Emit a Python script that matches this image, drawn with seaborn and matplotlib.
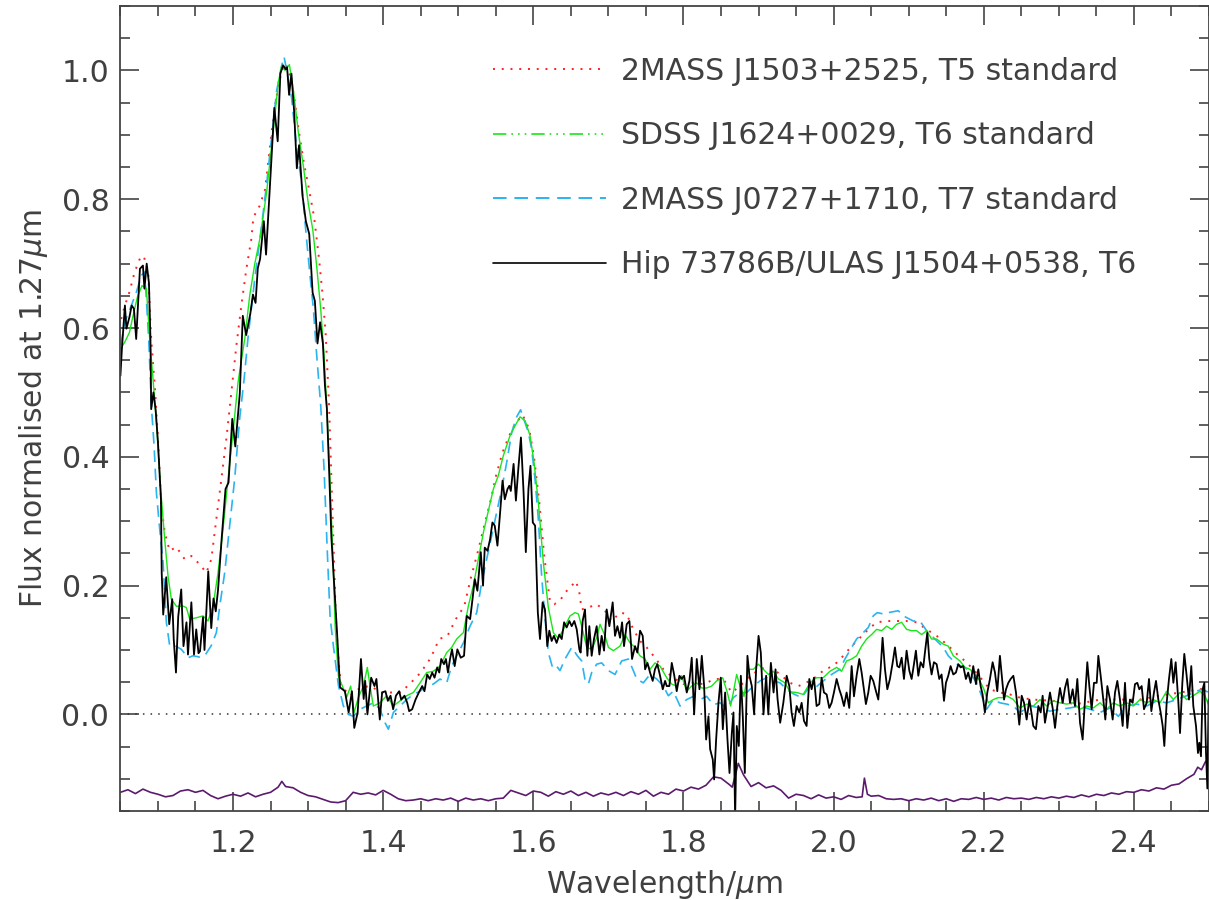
import numpy as np
import seaborn as sns
import matplotlib.pyplot as plt
from matplotlib.lines import Line2D
from matplotlib.ticker import MultipleLocator, FormatStrFormatter

# ---- data ----
# Hip 73786B / ULAS J1504+0538 (black)
black_wl = [1.050, 1.052, 1.056, 1.058, 1.062, 1.065, 1.068, 1.071, 1.076, 1.080, 1.082, 1.085, 1.088, 1.090, 1.091,
            1.094, 1.097, 1.100, 1.104, 1.105, 1.107, 1.111, 1.115, 1.119, 1.121, 1.124, 1.127, 1.131, 1.134, 1.138,
            1.140, 1.1445, 1.148, 1.151, 1.154,
            1.156, 1.160, 1.162, 1.167, 1.171, 1.174, 1.177, 1.180, 1.185, 1.190, 1.194, 1.199, 1.203, 1.209, 1.213,
            1.2175, 1.223, 1.2265, 1.230, 1.233, 1.236, 1.241, 1.244, 1.250, 1.255, 1.2595, 1.263, 1.2667, 1.270,
            1.272, 1.2747, 1.2778, 1.2814, 1.285, 1.288, 1.2925, 1.297, 1.3015, 1.306, 1.309, 1.3125, 1.316, 1.3197,
            1.3224, 1.325, 1.328, 1.331, 1.335, 1.3385,
            1.3425, 1.349, 1.354, 1.3584, 1.3615, 1.366, 1.3704, 1.374, 1.376, 1.379, 1.384, 1.3884, 1.391, 1.3955,
            1.3986, 1.403, 1.4062, 1.4098, 1.4133, 1.417, 1.4213, 1.424, 1.4284, 1.432, 1.4346, 1.4386, 1.4431,
            1.4475, 1.452, 1.455, 1.4586, 1.462, 1.4653, 1.4684, 1.472, 1.4747, 1.4773, 1.481, 1.4836, 1.4863, 1.489,
            1.4917, 1.4952, 1.4988, 1.5033, 1.5077, 1.5113, 1.5158, 1.519, 1.522, 1.5255, 1.530, 1.533, 1.5353,
            1.539, 1.5424, 1.5455, 1.5486, 1.5522, 1.5558, 1.559, 1.562, 1.5656, 1.568, 1.570, 1.5737, 1.5768, 1.580,
            1.5835, 1.587, 1.590, 1.5935, 1.5962, 1.5993, 1.6024, 1.606,
            1.6089, 1.6124, 1.6155, 1.6186, 1.6213, 1.6244, 1.6275, 1.631, 1.6346, 1.6378, 1.641, 1.6444, 1.648,
            1.6511, 1.6546, 1.6578, 1.6613, 1.663, 1.6657, 1.6688, 1.672, 1.6746, 1.6777, 1.6808, 1.6844, 1.688,
            1.691, 1.6942, 1.6977, 1.7013, 1.7057, 1.7088, 1.712, 1.7155, 1.7182, 1.7208, 1.7244, 1.728, 1.7315,
            1.7355, 1.7386, 1.7422, 1.7457, 1.7489, 1.752, 1.7555, 1.759, 1.762, 1.7652, 1.7688, 1.7724, 1.7755,
            1.7777, 1.7812, 1.7844, 1.7875, 1.791, 1.7946, 1.7977, 1.8008, 1.8044, 1.8079, 1.811, 1.8142, 1.8177,
            1.8213, 1.8244, 1.8275, 1.8302, 1.8333, 1.8355, 1.839, 1.8408, 1.8435, 1.8466, 1.8497, 1.8524, 1.8555,
            1.8586, 1.8613, 1.8644, 1.8666, 1.8688, 1.871, 1.8737, 1.8764, 1.879, 1.8817, 1.8852, 1.8879, 1.891,
            1.8941, 1.8968, 1.900, 1.903, 1.9066, 1.9101, 1.913, 1.9164, 1.920, 1.9226, 1.9253, 1.9288,
            1.933, 1.9374, 1.941, 1.944, 1.9471, 1.9507, 1.9543, 1.9574, 1.9605, 1.964, 1.9676, 1.9707, 1.9738,
            1.9773, 1.9809, 1.984, 1.9871, 1.9907, 1.9942, 1.9973, 2.0004, 2.004, 2.0075, 2.0106, 2.0138, 2.0173,
            2.0208, 2.024, 2.0271, 2.0306, 2.0342, 2.0373, 2.0404, 2.043, 2.0462, 2.0493, 2.0528, 2.0564, 2.0595,
            2.0626, 2.0652, 2.0684, 2.0715, 2.075, 2.0786, 2.0817, 2.0848, 2.0875, 2.0906, 2.0937, 2.0972, 2.1008,
            2.1039, 2.107, 2.1096, 2.1128, 2.1159, 2.1194, 2.1216, 2.1248, 2.1274, 2.1305, 2.1336, 2.1372, 2.1407,
            2.1438, 2.147, 2.1496, 2.1527, 2.1558, 2.1594, 2.1629, 2.166, 2.1692, 2.1727, 2.1762, 2.1793, 2.1825,
            2.186, 2.1896, 2.1927, 2.1958, 2.1984, 2.2015, 2.2047, 2.2082, 2.2118, 2.2149, 2.218, 2.2215,
            2.227, 2.2296, 2.2327, 2.2358, 2.2394, 2.2429, 2.2473, 2.2505, 2.2536, 2.2571, 2.2607, 2.2638, 2.266,
            2.2695, 2.2727, 2.2758, 2.2784, 2.2815, 2.2846, 2.2882, 2.2917, 2.2949, 2.298, 2.3015, 2.3051, 2.3082,
            2.3113, 2.3148, 2.3184, 2.3215, 2.3246, 2.3282, 2.3317, 2.3348, 2.3379, 2.3406, 2.3437, 2.3468, 2.3504,
            2.3526, 2.3557, 2.3592, 2.3619, 2.3646, 2.3681, 2.3717, 2.3748, 2.3779, 2.3814, 2.385, 2.3881, 2.3912,
            2.3947, 2.3983, 2.4014, 2.4045, 2.4072, 2.4103, 2.4134, 2.417, 2.4201, 2.4232, 2.4267, 2.4294, 2.4325,
            2.4356, 2.4383, 2.4405, 2.4436, 2.4467, 2.4498, 2.4525, 2.4556, 2.4591, 2.4614, 2.4645, 2.4671, 2.4702,
            2.4733, 2.4764, 2.4791, 2.4827, 2.4853, 2.4871, 2.4893, 2.4915, 2.4938, 2.496, 2.4978, 2.4995]
black_flux = [0.526, 0.568, 0.635, 0.599, 0.617, 0.635, 0.630, 0.583, 0.692, 0.697, 0.661, 0.700, 0.670, 0.583, 0.474,
              0.500, 0.472, 0.423, 0.334, 0.220, 0.155, 0.213, 0.140, 0.179, 0.117, 0.065, 0.152, 0.194, 0.106, 0.143,
              0.093, 0.174, 0.093, 0.132, 0.095,
              0.098, 0.151, 0.100, 0.222, 0.134, 0.180, 0.160, 0.193, 0.275, 0.350, 0.360, 0.459, 0.416, 0.498, 0.619,
              0.589, 0.622, 0.652, 0.639, 0.693, 0.707, 0.766, 0.714, 0.838, 0.942, 0.890, 0.995, 1.008, 1.002,
              1.005, 0.962, 0.995, 0.936, 0.848, 0.884, 0.806, 0.766, 0.746, 0.655, 0.642, 0.576, 0.609, 0.576,
              0.511, 0.475, 0.379, 0.275, 0.196, 0.128,
              0.042, 0.036, 0.003, 0.036, -0.021, 0.003, 0.086, 0.024, 0.052, 0.000, 0.057, 0.044, 0.055, -0.008,
              0.034, 0.036, 0.021, 0.029, 0.008, 0.029, 0.036, 0.023, 0.029, 0.018, 0.005, 0.008, 0.023,
              0.034, 0.044, 0.036, 0.062, 0.055, 0.065, 0.057, 0.073, 0.065, 0.086, 0.078, 0.086, 0.065, 0.086,
              0.101, 0.075, 0.101, 0.088, 0.091, 0.153, 0.148, 0.179, 0.210, 0.192, 0.252, 0.200, 0.259,
              0.254, 0.272, 0.298, 0.293, 0.262, 0.314, 0.363, 0.334, 0.350, 0.355, 0.347, 0.389, 0.332, 0.381,
              0.430, 0.345, 0.252, 0.350, 0.386, 0.298, 0.293, 0.158,
              0.117, 0.174, 0.163, 0.106, 0.130, 0.114, 0.122, 0.111, 0.124, 0.117, 0.143, 0.135, 0.145,
              0.137, 0.145, 0.132, 0.101, 0.096, 0.145, 0.163, 0.091, 0.137, 0.091, 0.117, 0.137, 0.093,
              0.122, 0.099, 0.163, 0.137, 0.174, 0.122, 0.137, 0.119, 0.143, 0.106, 0.140, 0.145, 0.086,
              0.106, 0.096, 0.130, 0.122, 0.070, 0.080, 0.065, 0.052, 0.070, 0.078, 0.060, 0.039, 0.052,
              0.044, 0.044, 0.080, 0.062, 0.036, 0.060, 0.055, 0.060, 0.034, 0.052, 0.088, 0.000, 0.086,
              0.039, 0.091, 0.044, -0.039, -0.003, -0.054, -0.070, -0.101, -0.039, 0.018, 0.057, -0.023, 0.034,
              -0.039, -0.091, -0.029, 0.003, -0.160, -0.018, -0.049, 0.060, -0.003, -0.091, 0.091, 0.060, 0.044,
              0.000, 0.070, 0.122, 0.096, 0.000, 0.060, 0.000, 0.080, 0.034, 0.070, 0.024, -0.013,
              0.018, 0.060, 0.044, 0.003, -0.018, 0.013, 0.003, 0.018, -0.010, -0.018, 0.055, 0.039, 0.057,
              0.013, 0.016, 0.057, 0.034, 0.031, 0.010, 0.018, 0.034, 0.055, 0.039, 0.028, 0.013, 0.034,
              0.010, 0.075, 0.028, 0.060, 0.086, 0.065, 0.039, 0.016, 0.034, 0.060, 0.052, 0.036, 0.023,
              0.070, 0.119, 0.070, 0.039, 0.055, 0.080, 0.104, 0.075, 0.073, 0.088, 0.055, 0.099, 0.068,
              0.055, 0.078, 0.099, 0.060, 0.081, 0.073, 0.096, 0.127, 0.086, 0.062, 0.081, 0.078, 0.055,
              0.062, 0.021, 0.049, 0.060, 0.075, 0.062, 0.065, 0.078, 0.073, 0.075, 0.055, 0.065, 0.049,
              0.075, 0.047, 0.070, 0.044, 0.031, 0.003, 0.034, 0.055, 0.081, 0.065, 0.036, 0.091,
              0.023, 0.039, 0.049, 0.055, 0.060, 0.034, -0.016, 0.029, 0.018, -0.008, 0.023, 0.000, -0.018,
              -0.023, 0.013, 0.003, 0.029, -0.013, 0.008, 0.034, 0.010, -0.021, 0.013, 0.041, 0.018, 0.041,
              0.055, 0.018, 0.039, 0.013, 0.055, -0.013, -0.039, 0.023, 0.081, 0.044, 0.008, 0.049, 0.049,
              0.091, 0.060, 0.023, -0.008, 0.044, 0.023, -0.008, 0.034, 0.052, 0.023, -0.018, 0.049, -0.021,
              0.023, 0.018, 0.047, 0.049, 0.039, 0.044, 0.008, 0.018, 0.055, 0.005, 0.034, 0.052, 0.023,
              0.003, -0.018, -0.049, 0.018, 0.055, 0.086, 0.049, 0.081, 0.021, -0.029, 0.049, 0.094, 0.060,
              0.023, 0.075, 0.013, -0.018, -0.060, -0.044, -0.065, 0.039, 0.049, -0.060, -0.115, 0.023]

# 2MASS J1503+2525, T5 standard (red dotted)
t5_wl = [1.051, 1.056, 1.062, 1.069, 1.076, 1.081, 1.087, 1.091, 1.096, 1.100, 1.1045, 1.109, 1.1156, 1.1245, 1.1356,
         1.1445, 1.1556, 1.1645, 1.1711, 1.1778, 1.1845, 1.1911, 1.1978, 1.2045, 1.2111, 1.2178, 1.2245, 1.2271,
         1.2351, 1.2427, 1.2471, 1.2515, 1.2573, 1.263, 1.268, 1.273, 1.278, 1.281, 1.288, 1.2946, 1.3013, 1.308,
         1.3146, 1.319, 1.3235, 1.328, 1.3324, 1.3369, 1.340, 1.3435, 1.356, 1.3701, 1.3834, 1.3968, 1.410, 1.4234,
         1.4368, 1.450, 1.4635, 1.4746, 1.4857, 1.4968, 1.508, 1.5168, 1.5257, 1.5346, 1.5435, 1.5502, 1.559, 1.568,
         1.5768, 1.5857, 1.5946, 1.6013, 1.608, 1.6146, 1.6222, 1.628, 1.6368, 1.6422, 1.6511, 1.6569, 1.6613,
         1.6644, 1.6733, 1.6844, 1.6955, 1.7044, 1.7155, 1.7243, 1.7332, 1.7421, 1.751, 1.7621, 1.7732, 1.7865,
         1.7998, 1.8131, 1.8265, 1.842, 1.8531, 1.8642, 1.8753, 1.8886, 1.902, 1.9153, 1.9286, 1.9419, 1.953,
         1.9596, 1.9729, 1.9884, 1.9995, 2.0129, 2.024, 2.0351, 2.0462, 2.0573, 2.0706, 2.0839, 2.0972, 2.1105,
         2.1238, 2.1372, 2.1505, 2.1638, 2.1749, 2.186, 2.1971, 2.2082, 2.2215, 2.2348, 2.2482, 2.266, 2.2927,
         2.3237, 2.3548, 2.3859, 2.4081, 2.4347, 2.4614, 2.488, 2.500]
t5_flux = [0.614, 0.635, 0.656, 0.687, 0.708, 0.712, 0.687, 0.583, 0.506, 0.428, 0.324, 0.283, 0.254, 0.260, 0.241,
           0.246, 0.233, 0.220, 0.241, 0.303, 0.366, 0.428, 0.500, 0.573, 0.635, 0.692, 0.739, 0.772,
           0.789, 0.815, 0.860, 0.905, 0.955, 0.990, 1.010, 1.005, 0.980, 0.962, 0.903, 0.855, 0.815, 0.772,
           0.707, 0.655, 0.589, 0.478, 0.314, 0.151, 0.092, 0.045, 0.029, 0.042, 0.044, 0.034, 0.034, 0.034,
           0.049, 0.065, 0.088, 0.117, 0.122, 0.148, 0.168, 0.212, 0.251, 0.293, 0.334, 0.370, 0.407, 0.433,
           0.453, 0.465, 0.443, 0.396, 0.329, 0.245, 0.175, 0.171, 0.179, 0.189, 0.200, 0.207, 0.189,
           0.163, 0.166, 0.171, 0.161, 0.145, 0.158, 0.156, 0.132, 0.114, 0.104, 0.088, 0.070, 0.057,
           0.047, 0.049, 0.047, 0.055, 0.055, 0.034, 0.044, 0.060, 0.070, 0.075, 0.062, 0.049, 0.044,
           0.047, 0.055, 0.070, 0.075, 0.091, 0.106, 0.119, 0.132, 0.143, 0.145, 0.145, 0.145, 0.143,
           0.132, 0.122, 0.109, 0.094, 0.083, 0.070, 0.055, 0.039, 0.034, 0.031, 0.026, 0.023, 0.021,
           0.016, 0.023, 0.023, 0.023, 0.029, 0.034, 0.039, 0.042]

# SDSS J1624+0029, T6 standard (green)
t6_wl = [1.0505, 1.0557, 1.062, 1.0668, 1.0726, 1.0788, 1.0846, 1.089, 1.0934, 1.0979, 1.1036, 1.109, 1.1134, 1.1178,
         1.1245, 1.1334, 1.1378, 1.1423, 1.1512, 1.160, 1.1667, 1.1734, 1.180, 1.1867, 1.1934, 1.200, 1.2067,
         1.2156, 1.2223, 1.229, 1.236, 1.2449, 1.2515, 1.2604, 1.2649, 1.2693, 1.2751, 1.2804, 1.2871, 1.2937,
         1.3004, 1.3062, 1.3116, 1.3169, 1.3213, 1.3248, 1.3293, 1.3329, 1.336, 1.3404, 1.3449, 1.3516, 1.3536,
         1.3567, 1.3612, 1.3669, 1.3736, 1.3789, 1.3825, 1.3869, 1.3958, 1.4047, 1.4136, 1.4224, 1.4313, 1.4402,
         1.4491, 1.458, 1.4668, 1.4757, 1.4846, 1.4912, 1.4979, 1.5068, 1.5134, 1.5201, 1.5268, 1.5334, 1.5401,
         1.5468, 1.5534, 1.5601, 1.569, 1.5756, 1.5823, 1.589, 1.5956, 1.601, 1.6067, 1.6134, 1.620, 1.6267,
         1.6333, 1.640, 1.6489, 1.6555, 1.660, 1.6644, 1.6711, 1.6777, 1.6844, 1.6888, 1.6955, 1.700, 1.7066,
         1.7155, 1.7221, 1.7288, 1.7354, 1.7421, 1.7488, 1.7554, 1.7621, 1.7688, 1.7776, 1.7843, 1.791, 1.7976,
         1.8042, 1.8109, 1.8176, 1.8242, 1.8309, 1.8376, 1.8442, 1.8522, 1.8584, 1.8628, 1.8664, 1.8708, 1.8753,
         1.8806, 1.8864, 1.8931, 1.8997, 1.9064, 1.9131, 1.9197, 1.9264, 1.9352, 1.9419, 1.9507, 1.9596, 1.9685,
         1.9773, 1.9862, 1.9951, 2.004, 2.0106, 2.0173, 2.024, 2.0306, 2.0373, 2.0439, 2.0506, 2.0573, 2.064,
         2.0706, 2.0773, 2.084, 2.0906, 2.0972, 2.1039, 2.1105, 2.1172, 2.1239, 2.1305, 2.1372, 2.1461, 2.1527,
         2.1594, 2.1683, 2.1749, 2.1816, 2.1882, 2.1949, 2.2002, 2.206, 2.2126, 2.2193, 2.226, 2.2305, 2.2394,
         2.2482, 2.2571, 2.266, 2.2749, 2.2838, 2.2927, 2.3015, 2.3104, 2.3193, 2.3282, 2.3371, 2.346, 2.3548,
         2.3637, 2.3726, 2.3814, 2.3903, 2.3992, 2.4081, 2.417, 2.4258, 2.4347, 2.4436, 2.4525, 2.4614, 2.4702,
         2.4791, 2.488, 2.4946, 2.500]
t6_flux = [0.568, 0.578, 0.593, 0.619, 0.648, 0.666, 0.661, 0.583, 0.521, 0.454, 0.350, 0.272, 0.215, 0.179,
           0.168, 0.168, 0.166, 0.148, 0.150, 0.153, 0.145, 0.168, 0.220, 0.288, 0.366, 0.438, 0.516,
           0.583, 0.651, 0.700, 0.740, 0.812, 0.884, 0.982, 1.008, 1.000, 1.009, 0.969, 0.903, 0.851,
           0.792, 0.753, 0.694, 0.628, 0.557, 0.478, 0.360, 0.249, 0.137, 0.059, 0.046, 0.027, 0.034,
           0.044, 0.003, 0.026, 0.044, 0.073, 0.044, 0.013, 0.018, 0.029, 0.013, 0.021, 0.029, 0.034,
           0.049, 0.065, 0.067, 0.075, 0.096, 0.104, 0.117, 0.127, 0.168, 0.200, 0.241, 0.282, 0.316,
           0.350, 0.371, 0.402, 0.433, 0.448, 0.462, 0.456, 0.433, 0.391, 0.329, 0.235, 0.166, 0.127,
           0.118, 0.132, 0.153, 0.158, 0.156, 0.137, 0.104, 0.101, 0.119, 0.140, 0.122, 0.104, 0.099,
           0.106, 0.124, 0.111, 0.104, 0.091, 0.086, 0.070, 0.080, 0.075, 0.057, 0.047, 0.044, 0.060,
           0.036, 0.044, 0.049, 0.041, 0.041, 0.044, 0.052, 0.057, 0.034, 0.013, 0.034, 0.062, 0.044,
           0.028, 0.070, 0.070, 0.078, 0.070, 0.062, 0.067, 0.055, 0.049, 0.035, 0.034, 0.031, 0.049,
           0.057, 0.057, 0.067, 0.073, 0.067, 0.083, 0.086, 0.091, 0.106, 0.117, 0.124, 0.132, 0.130,
           0.137, 0.132, 0.140, 0.143, 0.132, 0.130, 0.130, 0.124, 0.130, 0.117, 0.117, 0.109, 0.106,
           0.091, 0.083, 0.073, 0.070, 0.062, 0.052, 0.039, 0.018, 0.023, 0.026, 0.026, 0.029, 0.023,
           0.010, 0.016, 0.013, 0.023, 0.013, 0.021, 0.018, 0.016, 0.018, 0.008, 0.013, 0.010, 0.018,
           0.008, 0.018, 0.013, 0.018, 0.013, 0.023, 0.018, 0.023, 0.018, 0.036, 0.023, 0.034, 0.023,
           0.029, 0.036, 0.029, 0.013]

# 2MASS J0727+1710, T7 standard (cyan dashed)
t7_wl = [1.0505, 1.0557, 1.0646, 1.0713, 1.078, 1.0824, 1.0877, 1.0912, 1.0948, 1.0979, 1.1023, 1.1068, 1.1112,
         1.1156, 1.1223, 1.1312, 1.1401, 1.1467, 1.1556, 1.1623, 1.1711, 1.1778, 1.1823, 1.1889, 1.1956, 1.2022,
         1.2089, 1.2147, 1.220, 1.2293, 1.2382, 1.2449, 1.2515, 1.2582, 1.2649, 1.268, 1.2724, 1.2782, 1.2849,
         1.2915, 1.2973, 1.3026, 1.3071, 1.3115, 1.3169, 1.3213, 1.3257, 1.3293, 1.3338, 1.3404, 1.347, 1.3536,
         1.3603, 1.3692, 1.378, 1.3869, 1.3958, 1.4025, 1.4069, 1.4136, 1.4224, 1.4313, 1.4402, 1.4491, 1.458,
         1.4668, 1.4757, 1.4846, 1.4912, 1.4979, 1.5068, 1.5157, 1.5246, 1.5312, 1.5379, 1.5445, 1.5512, 1.5579,
         1.5645, 1.5712, 1.5778, 1.583, 1.5934, 1.5978, 1.6023, 1.6067, 1.6111, 1.6156, 1.620, 1.6258, 1.6311,
         1.6355, 1.6422, 1.6511, 1.6586, 1.6644, 1.6688, 1.6733, 1.6777, 1.6844, 1.6911, 1.700, 1.7088, 1.7177,
         1.7266, 1.7332, 1.7377, 1.7465, 1.7554, 1.7643, 1.7732, 1.7798, 1.7865, 1.7954, 1.8042, 1.8131, 1.822,
         1.8309, 1.8398, 1.8487, 1.8575, 1.8664, 1.8753, 1.8842, 1.8931, 1.902, 1.9108, 1.9197, 1.9286, 1.9374,
         1.9463, 1.9574, 1.9685, 1.9751, 1.9862, 1.9973, 2.0084, 2.0151, 2.024, 2.0306, 2.0395, 2.0462, 2.0528,
         2.0581, 2.0661, 2.0728, 2.0861, 2.0928, 2.1061, 2.115, 2.1238, 2.135, 2.1461, 2.1527, 2.1638, 2.1749,
         2.1816, 2.1904, 2.1971, 2.2038, 2.2126, 2.2215, 2.2304, 2.2393, 2.2482, 2.2616, 2.2749, 2.2882, 2.3015,
         2.3148, 2.3282, 2.3415, 2.3548, 2.3681, 2.3792, 2.3903, 2.4036, 2.417, 2.4303, 2.4436, 2.4569, 2.4702,
         2.4836, 2.4902, 2.500]
t7_flux = [0.573, 0.609, 0.635, 0.656, 0.682, 0.687, 0.583, 0.480, 0.418, 0.345, 0.288, 0.236, 0.143,
           0.107, 0.107, 0.101, 0.088, 0.091, 0.089, 0.091, 0.107, 0.127, 0.168, 0.220, 0.293, 0.366,
           0.460, 0.520, 0.585, 0.680, 0.760, 0.825, 0.897, 0.969, 1.008, 1.021, 0.995, 0.956, 0.877,
           0.825, 0.746, 0.681, 0.629, 0.557, 0.478, 0.380, 0.249, 0.151, 0.105, 0.045, 0.013, 0.000,
           -0.003, 0.008, 0.013, 0.018, 0.008, -0.013, -0.023, 0.003, 0.013, 0.023, 0.031, 0.036, 0.044,
           0.047, 0.055, 0.049, 0.075, 0.091, 0.111, 0.137, 0.158, 0.205, 0.241, 0.277, 0.314, 0.350,
           0.391, 0.438, 0.462, 0.473, 0.438, 0.412, 0.365, 0.303, 0.215, 0.148, 0.096, 0.072, 0.075,
           0.068, 0.086, 0.104, 0.091, 0.083, 0.054, 0.047, 0.065, 0.078, 0.080, 0.068, 0.062, 0.083,
           0.086, 0.068, 0.055, 0.049, 0.062, 0.055, 0.044, 0.029, 0.036, 0.013, 0.023, 0.028, 0.023,
           0.028, 0.015, 0.018, 0.010, 0.026, 0.034, 0.034, 0.044, 0.052, 0.057, 0.052, 0.049, 0.039,
           0.032, 0.026, 0.044, 0.041, 0.052, 0.062, 0.070, 0.086, 0.104, 0.117, 0.127, 0.135, 0.153,
           0.158, 0.156, 0.158, 0.161, 0.153, 0.145, 0.145, 0.130, 0.117, 0.104, 0.091, 0.078, 0.073,
           0.065, 0.049, 0.029, 0.008, 0.023, 0.018, 0.016, 0.013, 0.003, 0.013, 0.010, 0.005, 0.008,
           0.010, 0.013, 0.008, 0.003, 0.010, -0.003, 0.013, 0.016, 0.013, 0.021, 0.018, 0.023, 0.029,
           0.036, 0.039, 0.034]

# noise spectrum drawn along the bottom (purple)
noise_wl = [1.05, 1.06, 1.07, 1.08, 1.09, 1.10, 1.11, 1.12, 1.13, 1.14, 1.15, 1.16, 1.17, 1.18, 1.19, 1.20, 1.21,
            1.22, 1.23, 1.24, 1.25, 1.26, 1.265, 1.27, 1.28, 1.29, 1.30, 1.31, 1.32, 1.33, 1.34, 1.35, 1.36, 1.37,
            1.38, 1.39, 1.40, 1.41, 1.42, 1.43, 1.44, 1.45, 1.46, 1.47, 1.48, 1.49, 1.50, 1.51, 1.52, 1.53, 1.54,
            1.55, 1.56, 1.57, 1.58, 1.59, 1.60, 1.61, 1.62, 1.63, 1.64, 1.65, 1.66, 1.67, 1.68, 1.69, 1.70, 1.71,
            1.72, 1.73, 1.74, 1.75, 1.76, 1.77, 1.78, 1.79, 1.80, 1.81, 1.82, 1.83, 1.84, 1.85, 1.86, 1.865, 1.873,
            1.88, 1.89, 1.90, 1.91, 1.92, 1.93, 1.94, 1.95, 1.96, 1.97, 1.98, 1.99, 2.00, 2.01, 2.02, 2.03, 2.038,
            2.041, 2.045, 2.05, 2.06, 2.07, 2.08, 2.09, 2.10, 2.11, 2.12, 2.13, 2.14, 2.15, 2.16, 2.17, 2.18, 2.19,
            2.20, 2.21, 2.22, 2.23, 2.24, 2.25, 2.26, 2.27, 2.28, 2.29, 2.30, 2.31, 2.32, 2.33, 2.34, 2.35, 2.36,
            2.37, 2.38, 2.39, 2.40, 2.41, 2.42, 2.43, 2.44, 2.45, 2.46, 2.47, 2.48, 2.485, 2.49, 2.495, 2.50]
noise_flux = [-0.121, -0.117, -0.123, -0.116, -0.121, -0.124, -0.128, -0.126, -0.119, -0.117, -0.121, -0.118,
              -0.126, -0.131, -0.127, -0.124, -0.127, -0.122, -0.128, -0.124, -0.121, -0.113, -0.104, -0.112,
              -0.114, -0.121, -0.126, -0.128, -0.132, -0.136, -0.137, -0.134, -0.121, -0.124, -0.122, -0.125,
              -0.118, -0.124, -0.131, -0.134, -0.133, -0.131, -0.134, -0.131, -0.133, -0.130, -0.135, -0.130,
              -0.133, -0.131, -0.134, -0.131, -0.130, -0.118, -0.122, -0.126, -0.119, -0.121, -0.127, -0.120,
              -0.124, -0.119, -0.126, -0.121, -0.127, -0.122, -0.125, -0.121, -0.126, -0.120, -0.124, -0.118,
              -0.127, -0.121, -0.124, -0.116, -0.119, -0.113, -0.116, -0.110, -0.097, -0.099, -0.108, -0.113,
              -0.076, -0.094, -0.112, -0.106, -0.114, -0.111, -0.118, -0.130, -0.124, -0.126, -0.131, -0.125,
              -0.130, -0.128, -0.132, -0.126, -0.129, -0.128, -0.099, -0.124, -0.127, -0.126, -0.131, -0.132,
              -0.131, -0.134, -0.131, -0.133, -0.130, -0.134, -0.131, -0.135, -0.131, -0.132, -0.129, -0.132,
              -0.130, -0.133, -0.129, -0.131, -0.130, -0.132, -0.129, -0.131, -0.128, -0.130, -0.127, -0.129,
              -0.125, -0.128, -0.124, -0.126, -0.122, -0.124, -0.120, -0.121, -0.117, -0.119, -0.114, -0.116,
              -0.110, -0.108, -0.100, -0.093, -0.082, -0.086, -0.074, -0.068]

legend_labels = ['2MASS J1503+2525, T5 standard',
                 'SDSS J1624+0029, T6 standard',
                 '2MASS J0727+1710, T7 standard',
                 'Hip 73786B/ULAS J1504+0538, T6']

# ---- style ----
sns.set_theme(style='ticks')
plt.rcParams['font.family'] = ['DejaVu Sans']
ink = '#404040'
fs = 21.5

fig = plt.figure(figsize=(12.09, 9), dpi=100)
ax = fig.add_axes([0.0996, 0.0989, 0.9004, 0.8944])

red_ls = (0, (1, 3.5))
green_ls = (0, (8, 3, 1, 3, 1, 3, 1, 3))
cyan_ls = (0, (7, 4))

sns.lineplot(x=noise_wl, y=noise_flux, color='#5b1a6e', linewidth=1.2, estimator=None, errorbar=None, ax=ax)
ax.axhline(0.0, color='#333333', linestyle=(0, (1, 4)), linewidth=1.1)
sns.lineplot(x=t5_wl, y=t5_flux, color='#ff2020', linestyle=red_ls, linewidth=1.4,
             estimator=None, errorbar=None, ax=ax)
sns.lineplot(x=t7_wl, y=t7_flux, color='#2ab4f0', linestyle=cyan_ls, linewidth=1.2,
             estimator=None, errorbar=None, ax=ax)
sns.lineplot(x=t6_wl, y=t6_flux, color='#19e619', linewidth=1.0, estimator=None, errorbar=None, ax=ax)
sns.lineplot(x=black_wl, y=black_flux, color='black', linewidth=1.3, estimator=None, errorbar=None, ax=ax)

ax.set_xlim(1.05, 2.5)
ax.set_ylim(-0.15, 1.10)

ax.xaxis.set_major_locator(MultipleLocator(0.2))
ax.xaxis.set_minor_locator(MultipleLocator(0.05))
ax.yaxis.set_major_locator(MultipleLocator(0.2))
ax.yaxis.set_minor_locator(MultipleLocator(0.05))
ax.xaxis.set_major_formatter(FormatStrFormatter('%.1f'))
ax.yaxis.set_major_formatter(FormatStrFormatter('%.1f'))

ax.tick_params(which='both', direction='in', top=True, right=True, color='#444444', labelcolor=ink,
               labelsize=fs)
ax.tick_params(which='major', length=14, width=1.2)
ax.tick_params(which='minor', length=7, width=1.2)
ax.tick_params(axis='x', which='major', pad=13)
ax.tick_params(axis='y', which='major', pad=8)
for sp in ax.spines.values():
    sp.set_color('#444444')
    sp.set_linewidth(1.3)

ax.set_xlabel('Wavelength/$\\mu$m', fontsize=fs, color=ink, labelpad=7)
ax.set_ylabel('Flux normalised at 1.27$\\mu$m', fontsize=fs, color=ink, labelpad=8)

handles = [Line2D([], [], color='#ff2020', linestyle=red_ls, linewidth=1.4),
           Line2D([], [], color='#19e619', linestyle=green_ls, linewidth=1.2),
           Line2D([], [], color='#2ab4f0', linestyle=cyan_ls, linewidth=1.4),
           Line2D([], [], color='black', linewidth=1.2)]
leg = ax.legend(handles, legend_labels, loc='upper left', bbox_to_anchor=(0.3423, 0.937), frameon=False,
                fontsize=fs, handlelength=3.78, handletextpad=0.5, labelspacing=1.19,
                borderpad=0, borderaxespad=0)
for t in leg.get_texts():
    t.set_color(ink)

fig.savefig('out.png', dpi=100)
